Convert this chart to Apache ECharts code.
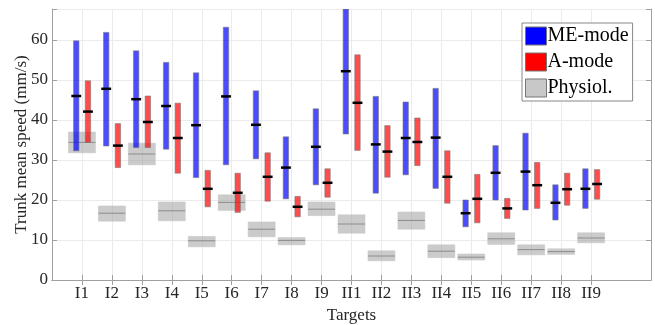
<!DOCTYPE html>
<html>
<head>
<meta charset="utf-8">
<script src="https://cdn.jsdelivr.net/npm/echarts@6/dist/echarts.min.js"></script>
<style>
  html, body { margin: 0; padding: 0; background: #fff; }
  #chart { width: 655px; height: 325px; }
</style>
</head>
<body>
<div id="chart"></div>
<script>
// targets
const targets = ['I1', 'I2', 'I3', 'I4', 'I5', 'I6', 'I7', 'I8', 'I9',
  'II1', 'II2', 'II3', 'II4', 'II5', 'II6', 'II7', 'II8', 'II9'];

// ME-mode: low / median / high (mm/s)
const meLow  = [32.3, 33.5, 33.1, 32.7, 25.6, 28.8, 30.3, 20.3, 23.8, 36.5, 21.7, 26.3, 22.9, 13.3, 20.0, 17.5, 15.0, 17.9];
const meMed  = [46.0, 47.8, 45.2, 43.5, 38.7, 45.9, 38.8, 28.1, 33.3, 52.2, 33.9, 35.5, 35.6, 16.7, 26.8, 27.1, 19.3, 22.8];
const meHigh = [59.8, 61.9, 57.3, 54.4, 51.8, 63.2, 47.3, 35.8, 42.8, 72.0, 45.9, 44.5, 47.9, 20.0, 33.6, 36.7, 23.8, 27.8];

// A-mode
const aLow  = [34.4, 28.1, 33.1, 26.7, 18.3, 16.9, 19.7, 15.8, 20.7, 32.4, 25.7, 28.6, 19.2, 14.3, 15.4, 17.9, 18.7, 20.2];
const aMed  = [42.1, 33.6, 39.5, 35.5, 22.8, 21.8, 25.8, 18.3, 24.3, 44.3, 32.1, 34.5, 25.8, 20.3, 17.9, 23.7, 22.7, 24.0];
const aHigh = [49.8, 39.1, 46.0, 44.2, 27.4, 26.7, 31.8, 20.9, 27.8, 56.3, 38.6, 40.5, 32.3, 26.4, 20.4, 29.4, 26.7, 27.6];

// physiological range
const phLow  = [31.8, 14.7, 28.8, 14.8, 8.3, 17.4, 10.8, 8.8, 16.1, 11.7, 4.8, 12.7, 5.6, 5.0, 8.9, 6.3, 6.4, 9.3];
const phMed  = [34.4, 16.7, 31.5, 17.3, 9.8, 19.4, 12.7, 9.9, 17.7, 14.0, 6.0, 14.9, 7.2, 5.7, 10.3, 7.6, 7.1, 10.5];
const phHigh = [37.0, 18.5, 34.2, 19.5, 10.9, 21.3, 14.5, 10.6, 19.5, 16.3, 7.3, 17.0, 8.8, 6.5, 11.8, 8.8, 7.8, 11.8];

const FONT = 'Liberation Serif';
const axisData = [''].concat(targets, ['', '']);
const shown = (i, v) => v !== '';

function rows(lo, med, hi) {
  return targets.map((t, i) => [i + 1, lo[i], med[i], hi[i]]);
}

// range box with a median line, offset/width in slot units
function rangeRender(offset, width, fill, stroke, medColor, medWidth, medThick) {
  return function (params, api) {
    const slot = api.coord([1, 0])[0] - api.coord([0, 0])[0];
    const c = api.coord([api.value(0), 0])[0] + offset * slot;
    const yLo = api.coord([api.value(0), api.value(1)])[1];
    const yMed = api.coord([api.value(0), api.value(2)])[1];
    const yHi = api.coord([api.value(0), api.value(3)])[1];
    const w = width * slot;
    const rect = echarts.graphic.clipRectByRect(
      { x: c - w / 2, y: yHi, width: w, height: yLo - yHi },
      { x: params.coordSys.x, y: params.coordSys.y, width: params.coordSys.width, height: params.coordSys.height }
    );
    const mw = medWidth * slot;
    return {
      type: 'group',
      children: [
        { type: 'rect', shape: rect, style: { fill: fill, stroke: stroke, lineWidth: 1 } },
        { type: 'line', shape: { x1: c - mw / 2, y1: yMed, x2: c + mw / 2, y2: yMed },
          style: { stroke: medColor, lineWidth: medThick } }
      ]
    };
  };
}

const chart = echarts.init(document.getElementById('chart'));

const option = {
  animation: false,
  textStyle: { fontFamily: FONT },
  grid: { left: 52, right: 4, top: 9, bottom: 45, outerBoundsMode: 'none', containLabel: false },
  legend: {
    orient: 'vertical',
    left: 522, top: 23,
    itemWidth: 21, itemHeight: 18, itemGap: 6,
    padding: [3, 4, 3, 3],
    borderColor: '#888', borderWidth: 1,
    backgroundColor: '#fff',
    icon: 'rect',
    textStyle: { fontFamily: FONT, fontSize: 20, color: '#000', padding: [0, 0, 0, -4] },
    data: [
      { name: 'ME-mode', itemStyle: { color: '#0000ff', borderColor: '#777', borderWidth: 1 } },
      { name: 'A-mode', itemStyle: { color: '#ff0000', borderColor: '#777', borderWidth: 1 } },
      { name: 'Physiol.', itemStyle: { color: '#c8c8c8', borderColor: '#777', borderWidth: 1 } }
    ]
  },
  xAxis: [
    {
      type: 'category', data: axisData, boundaryGap: false, position: 'bottom',
      name: 'Targets', nameLocation: 'middle', nameGap: 26,
      nameTextStyle: { fontFamily: FONT, fontSize: 17, color: '#262626' },
      axisLine: { lineStyle: { color: '#a0a0a0' } },
      axisTick: { inside: true, length: 5, interval: shown, lineStyle: { color: '#a0a0a0' } },
      axisLabel: { interval: shown, margin: 5, fontFamily: FONT, fontSize: 17, color: '#262626' },
      splitLine: { show: true, interval: shown, lineStyle: { color: '#ebebeb' } }
    },
    {
      type: 'category', data: axisData, boundaryGap: false, position: 'top',
      axisLine: { lineStyle: { color: '#a0a0a0' } },
      axisTick: { inside: true, length: 5, interval: shown, lineStyle: { color: '#a0a0a0' } },
      axisLabel: { show: false },
      splitLine: { show: false }
    }
  ],
  yAxis: [
    {
      type: 'value', min: 0, max: 67.75, interval: 10, position: 'left',
      name: 'Trunk mean speed (mm/s)', nameLocation: 'middle', nameGap: 22, nameMoveOverlap: false,
      nameTextStyle: { fontFamily: FONT, fontSize: 17, color: '#262626' },
      axisLine: { show: true, lineStyle: { color: '#a0a0a0' } },
      axisTick: { show: true, inside: true, length: 5, lineStyle: { color: '#a0a0a0' } },
      axisLabel: { margin: 4, fontFamily: FONT, fontSize: 17, color: '#262626',
        formatter: v => (v % 10 === 0 ? String(v) : '') },
      splitLine: { show: true, lineStyle: { color: '#ebebeb' } }
    },
    {
      type: 'value', min: 0, max: 67.75, interval: 10, position: 'right',
      axisLine: { show: true, lineStyle: { color: '#a0a0a0' } },
      axisTick: { show: true, inside: true, length: 5, lineStyle: { color: '#a0a0a0' } },
      axisLabel: { show: false },
      splitLine: { show: false }
    }
  ],
  series: [
    {
      name: 'Physiol.', type: 'custom', clip: true,
      itemStyle: { color: '#c8c8c8' },
      renderItem: rangeRender(0, 0.9, 'rgba(160,160,160,0.55)', 'rgba(200,200,200,0.6)', '#8c8c8c', 0.9, 1),
      encode: { x: 0, y: [1, 2, 3] },
      data: rows(phLow, phMed, phHigh), z: 1
    },
    {
      name: 'ME-mode', type: 'custom', clip: true,
      itemStyle: { color: '#0000ff' },
      renderItem: rangeRender(-0.19, 0.18, 'rgba(0,0,255,0.7)', 'rgba(120,120,120,0.6)', '#000', 0.33, 2.5),
      encode: { x: 0, y: [1, 2, 3] },
      data: rows(meLow, meMed, meHigh), z: 2
    },
    {
      name: 'A-mode', type: 'custom', clip: true,
      itemStyle: { color: '#ff0000' },
      renderItem: rangeRender(0.2, 0.18, 'rgba(255,0,0,0.7)', 'rgba(120,120,120,0.6)', '#000', 0.33, 2.5),
      encode: { x: 0, y: [1, 2, 3] },
      data: rows(aLow, aMed, aHigh), z: 2
    }
  ]
};

chart.setOption(option);
</script>
</body>
</html>
